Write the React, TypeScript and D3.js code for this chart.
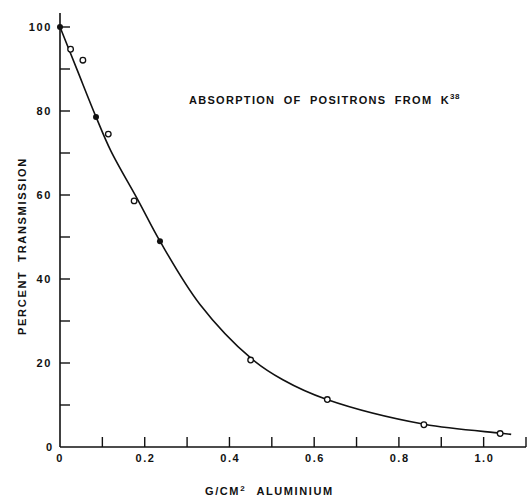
import * as d3 from 'd3';

// Measured transmission points (g/cm² Al, percent)
const OPEN_X = [0.025, 0.054, 0.114, 0.175, 0.45, 0.631, 0.859, 1.039];
const OPEN_Y = [94.7, 92.1, 74.5, 58.6, 20.7, 11.3, 5.3, 3.2];
const SOLID_X = [0, 0.085, 0.236];
const SOLID_Y = [100, 78.6, 49.0];

// Hand-drawn fitted curve
const CURVE_X = [0, 0.04, 0.085, 0.12, 0.185, 0.236, 0.33, 0.45, 0.526, 0.63, 0.86, 1.04, 1.065];
const CURVE_Y = [100, 89.9, 78.6, 70.5, 58.6, 49, 34, 21.2, 16, 11.3, 5.4, 3.3, 3.0];

const X_LABELS = ['0', '0.2', '0.4', '0.6', '0.8', '1.0'];
const X_LABEL_VALUES = [0, 0.2, 0.4, 0.6, 0.8, 1.0];
const Y_LABEL_VALUES = [20, 40, 60, 80, 100];

const W = 528;
const H = 499;
const FONT = '"Liberation Sans", Arial, sans-serif';

export default function App() {
  const x = d3.scaleLinear().domain([0, 1.1]).range([60, 526]);
  const y = d3.scaleLinear().domain([0, 100]).range([447, 27]);

  const xTicks = d3.range(0, 12).map((i) => i / 10);
  const yTicks = d3.range(1, 11).map((i) => i * 10);

  const line = d3
    .line<number>()
    .x((_, i) => x(CURVE_X[i]))
    .y((d) => y(d))
    .curve(d3.curveCatmullRom.alpha(0.5));

  const txt = { fontFamily: FONT, fontWeight: 700, fontSize: 11, fill: '#111' };

  return (
    <svg width={W} height={H} style={{ position: 'absolute', left: 0, top: 0, background: '#fff' }}>
      {/* axes */}
      <line x1={x(0)} x2={x(0)} y1={y(0)} y2={13} stroke="#111" strokeWidth={1.6} />
      <line x1={x(0)} x2={x(1.1)} y1={y(0)} y2={y(0)} stroke="#111" strokeWidth={1.6} />
      {yTicks.map((t) => (
        <line key={'yt' + t} x1={x(0)} x2={x(0) + 10} y1={y(t)} y2={y(t)} stroke="#111" strokeWidth={1.4} />
      ))}
      {xTicks.slice(1).map((t) => (
        <line key={'xt' + t} x1={x(t)} x2={x(t)} y1={y(0)} y2={y(0) - 10} stroke="#111" strokeWidth={1.4} />
      ))}

      {/* tick labels */}
      {Y_LABEL_VALUES.map((v) => (
        <text key={'yl' + v} x={52} y={y(v) + 4} textAnchor="end" letterSpacing={1.6} {...txt}>
          {v}
        </text>
      ))}
      <text x={49} y={y(0) + 4} textAnchor="middle" {...txt}>0</text>
      {X_LABELS.map((l, i) => (
        <text key={'xl' + l} x={x(X_LABEL_VALUES[i]) + (i === 0 ? 0 : 0.8)} y={462} textAnchor="middle" letterSpacing={1.6} {...txt}>
          {l}
        </text>
      ))}

      {/* axis titles */}
      <text
        transform={`translate(26,${246}) rotate(-90)`}
        textAnchor="middle"
        letterSpacing={1.7}
        wordSpacing={4}
        {...txt}
      >
        PERCENT TRANSMISSION
      </text>
      <text x={205} y={495} letterSpacing={1.6} wordSpacing={6} {...txt}>
        G/CM<tspan fontSize={8} dy={-4}>2</tspan>
        <tspan dy={4}> ALUMINIUM</tspan>
      </text>

      {/* chart title */}
      <text x={189} y={104} letterSpacing={1.3} wordSpacing={4} {...txt}>
        ABSORPTION OF POSITRONS FROM K<tspan fontSize={8} dy={-5} letterSpacing={0.5}>38</tspan>
      </text>

      {/* fitted curve */}
      <path d={line(CURVE_Y) ?? ''} fill="none" stroke="#111" strokeWidth={1.6} />

      {/* data points */}
      {OPEN_X.map((v, i) => (
        <circle key={'o' + i} cx={x(v)} cy={y(OPEN_Y[i])} r={2.8} fill="#fff" stroke="#111" strokeWidth={1.3} />
      ))}
      {SOLID_X.map((v, i) => (
        <circle key={'s' + i} cx={x(v)} cy={y(SOLID_Y[i])} r={3} fill="#111" />
      ))}
    </svg>
  );
}
